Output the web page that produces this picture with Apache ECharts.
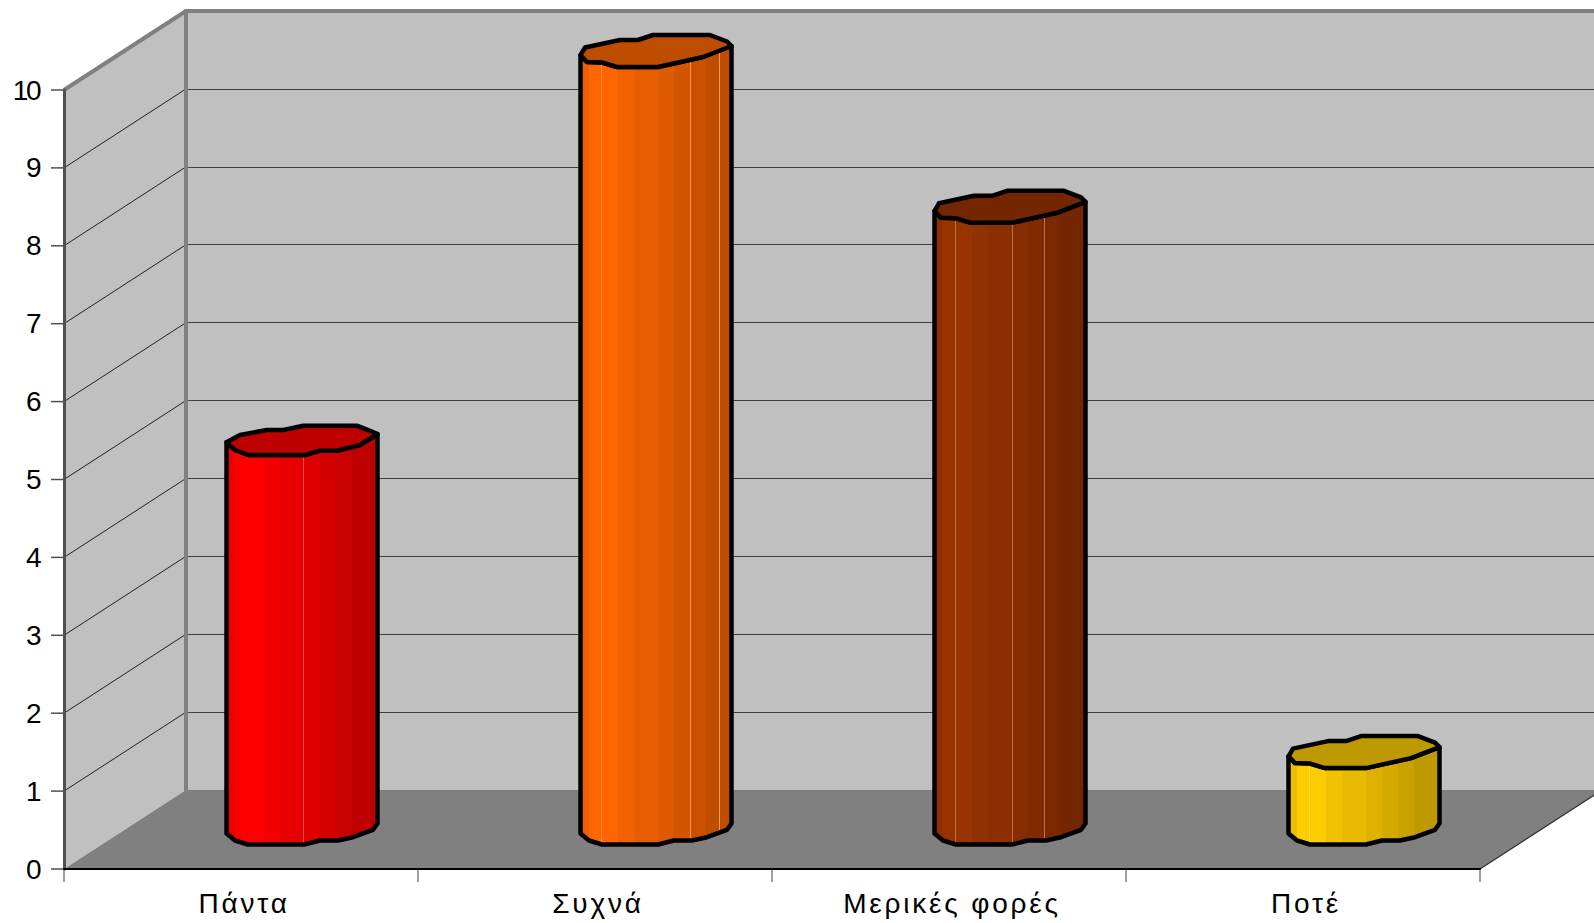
<!DOCTYPE html>
<html>
<head>
<meta charset="utf-8">
<style>
  html, body { margin: 0; padding: 0; background: #fff; overflow: hidden; }
  #chart { width: 1594px; height: 923px; }
  /* Category names are set wide, the value labels tight */
  #chart text[text-anchor="middle"] { letter-spacing: 2.8px; }
  #chart text[text-anchor="end"] { letter-spacing: -2.5px; }
</style>
<script src="https://cdn.jsdelivr.net/npm/echarts@6/dist/echarts.min.js"></script>
</head>
<body>
<div id="chart"></div>
<script>
const categories = ['Πάντα', 'Συχνά', 'Μερικές φορές', 'Ποτέ'];
const values = [5, 10, 8, 1];
const barColors = ['#FF0000', '#FF6600', '#993300', '#FFCC00'];
const yTicks = [0, 1, 2, 3, 4, 5, 6, 7, 8, 9, 10];

// Room between the front plane and the back wall of the box
const depth = [122, -79];
const tickLength = 13;

// Cylinder facets: right edge of each band (fraction of width) and its brightness
const facetEdges = [0.055, 0.25, 0.353, 0.516, 0.62, 0.727, 0.833, 0.916, 1];
const facetShade = [0.93, 1, 0.95, 0.91, 0.87, 0.83, 0.79, 0.75, 0.75];
// Pale seams between some of the facets, per bar
const seams = [
  [0.51, 0.91],
  [0.14, 0.62, 0.727, 0.92],
  [0.14, 0.516, 0.62, 0.727, 0.916],
  [0.14, 0.62]
];

// Outline of the faceted cylinder's cross-section, in pixels around its axis
const upperRimA = [[-62, -5], [-35.3, -10], [-18.7, -10], [1.3, -14.3], [54.7, -14.3], [70, -8.3]];
const lowerRimA = [[-75.5, 2.3], [-67, 10], [-53.7, 15], [3, 15], [18, 10.7], [34.7, 10.7], [58, 5], [75.5, -6]];
const upperRimB = [[-71, -3], [-36, -10.5], [-18, -10.5], [-3, -15.5], [54, -15.5], [71, -9]];
const lowerRimB = [[-75.5, 4.7], [-69, 11.5], [-54, 12], [-39, 16.5], [2, 16.5], [47, 6.5], [75.5, -4.5]];
const baseRim = [[-75.5, 4], [-67, 11], [-54, 15], [2, 15], [18, 11], [36, 11], [51, 7.7], [71, 0.3], [75.5, -6]];
const rimStyle = ['A', 'B', 'B', 'B'];

function shade(hex, f) {
  const n = parseInt(hex.slice(1), 16);
  const c = [n >> 16, (n >> 8) & 255, n & 255].map(v => Math.round(v * f));
  return 'rgb(' + c.join(',') + ')';
}
function tint(hex, f) {
  const n = parseInt(hex.slice(1), 16);
  const c = [n >> 16, (n >> 8) & 255, n & 255].map(v => Math.round(v + (255 - v) * f));
  return 'rgb(' + c.join(',') + ')';
}

// Hard-stop gradient giving the banded look of the cylinder side
function facetFill(color, seamList) {
  const stops = [];
  let from = 0;
  facetEdges.forEach((edge, i) => {
    const c = shade(color, facetShade[i]);
    stops.push({ offset: from, color: c }, { offset: edge, color: c });
    from = edge;
  });
  const pale = tint(color, 0.3);
  seamList.forEach(s => {
    const at = stops.findIndex(st => st.offset > s);
    const base = stops[at].color;
    stops.splice(at, 0,
      { offset: s - 0.002, color: base }, { offset: s - 0.002, color: pale },
      { offset: s + 0.002, color: pale }, { offset: s + 0.002, color: base });
  });
  return new echarts.graphic.LinearGradient(0, 0, 1, 0, stops);
}

const shift = (pts, c) => pts.map(p => [c[0] + p[0], c[1] + p[1]]);

// Left wall, floor and the tick marks, sized from the front grid
function renderBox(params, api) {
  const g = params.coordSys;
  const x0 = g.x, x1 = g.x + g.width, yB = g.y + g.height, yT = g.y;
  const [dx, dy] = depth;
  const children = [
    { type: 'polygon', shape: { points: [[x0, yT], [x0 + dx, yT + dy], [x0 + dx, yB + dy], [x0, yB]] }, style: { fill: '#C0C0C0' } },
    { type: 'polygon', shape: { points: [[x0, yB], [x0 + dx, yB + dy], [x1 + dx, yB + dy], [x1, yB]] }, style: { fill: '#808080' } },
    { type: 'line', shape: { x1: x0, y1: yT, x2: x0 + dx, y2: yT + dy }, style: { stroke: '#808080', lineWidth: 4 } },
    { type: 'line', shape: { x1: x1, y1: yB, x2: x1 + dx, y2: yB + dy }, style: { stroke: '#303030', lineWidth: 1.2 } }
  ];
  yTicks.forEach(t => {
    const y = api.coord([0, t])[1];
    children.push({ type: 'line', shape: { x1: x0 - tickLength, y1: y, x2: x0, y2: y }, style: { stroke: '#505050', lineWidth: 1.5 } });
    if (t > 0 && t < 10) {
      children.push({ type: 'line', shape: { x1: x0, y1: y, x2: x0 + dx, y2: y + dy }, style: { stroke: '#202020', lineWidth: 1 } });
    }
  });
  const band = api.size([1, 0])[0];
  for (let k = 0; k <= categories.length; k++) {
    const x = x0 + k * band;
    children.push({ type: 'line', shape: { x1: x, y1: yB, x2: x, y2: yB + tickLength }, style: { stroke: '#808080', lineWidth: 1.5 } });
  }
  return { type: 'group', children };
}

// One faceted cylinder standing halfway into the box
function renderCylinder(params, api) {
  const i = api.value(0);
  const color = barColors[i];
  const foot = api.coord([i, 0]);
  const head = api.coord([i, api.value(1)]);
  const off = [depth[0] / 2, depth[1] / 2];
  const baseC = [foot[0] + off[0], foot[1] + off[1]];
  const topC = [head[0] + off[0], head[1] + off[1]];
  const upper = rimStyle[i] === 'A' ? upperRimA : upperRimB;
  const lower = rimStyle[i] === 'A' ? lowerRimA : lowerRimB;
  const side = shift(lower, topC).concat(shift(baseRim.slice().reverse(), baseC));
  const top = shift(lower, topC).concat(shift(upper.slice().reverse(), topC));
  return {
    type: 'group',
    children: [
      { type: 'polygon', shape: { points: side }, style: { fill: facetFill(color, seams[i]), stroke: '#000', lineWidth: 4.5, lineJoin: 'round' } },
      { type: 'polygon', shape: { points: top }, style: { fill: shade(color, 0.75), stroke: '#000', lineWidth: 4.5, lineJoin: 'round' } }
    ]
  };
}

const chart = echarts.init(document.getElementById('chart'), null, { renderer: 'svg' });
const labelFont = { fontFamily: 'Liberation Sans', color: '#000', fontSize: 28 };

chart.setOption({
  animation: false,
  backgroundColor: '#fff',
  grid: [
    { left: 64, top: 90, width: 1416, height: 779 },
    { left: 186, top: 11, width: 1416, height: 779, show: true, backgroundColor: '#C0C0C0', borderWidth: 0 }
  ],
  xAxis: [
    {
      type: 'category', gridIndex: 0, data: categories, z: 4,
      axisLine: { lineStyle: { color: '#000', width: 2 } },
      axisTick: { show: false },
      axisLabel: Object.assign({ margin: 20, interval: 0, padding: [0, 0, 0, 6] }, labelFont)
    },
    {
      type: 'category', gridIndex: 1, data: categories, position: 'top', z: 2,
      axisLine: { onZero: false, lineStyle: { color: '#808080', width: 4 } },
      axisTick: { show: false }, axisLabel: { show: false }
    }
  ],
  yAxis: [
    {
      type: 'value', gridIndex: 0, min: 0, max: 10, interval: 1, z: 4,
      axisLine: { show: true, lineStyle: { color: '#505050', width: 3 } },
      axisTick: { show: false },
      axisLabel: Object.assign({ margin: 25, padding: [0, 0, 3, 0] }, labelFont),
      splitLine: { show: false }
    },
    {
      type: 'value', gridIndex: 1, min: 0, max: 10, interval: 1, z: 2,
      axisLine: { show: true, lineStyle: { color: '#808080', width: 4 } },
      axisTick: { show: false }, axisLabel: { show: false },
      splitLine: { show: true, showMinLine: false, showMaxLine: false, lineStyle: { color: '#404040', width: 1 } }
    }
  ],
  series: [
    {
      type: 'custom', name: 'box', xAxisIndex: 0, yAxisIndex: 0, z: 1, silent: true, clip: false,
      data: [[0, 0]], renderItem: renderBox
    },
    {
      type: 'custom', name: 'values', xAxisIndex: 0, yAxisIndex: 0, z: 3, clip: false,
      encode: { x: 0, y: 1 },
      data: values.map((v, i) => [i, v]), renderItem: renderCylinder
    }
  ]
});
</script>
</body>
</html>
